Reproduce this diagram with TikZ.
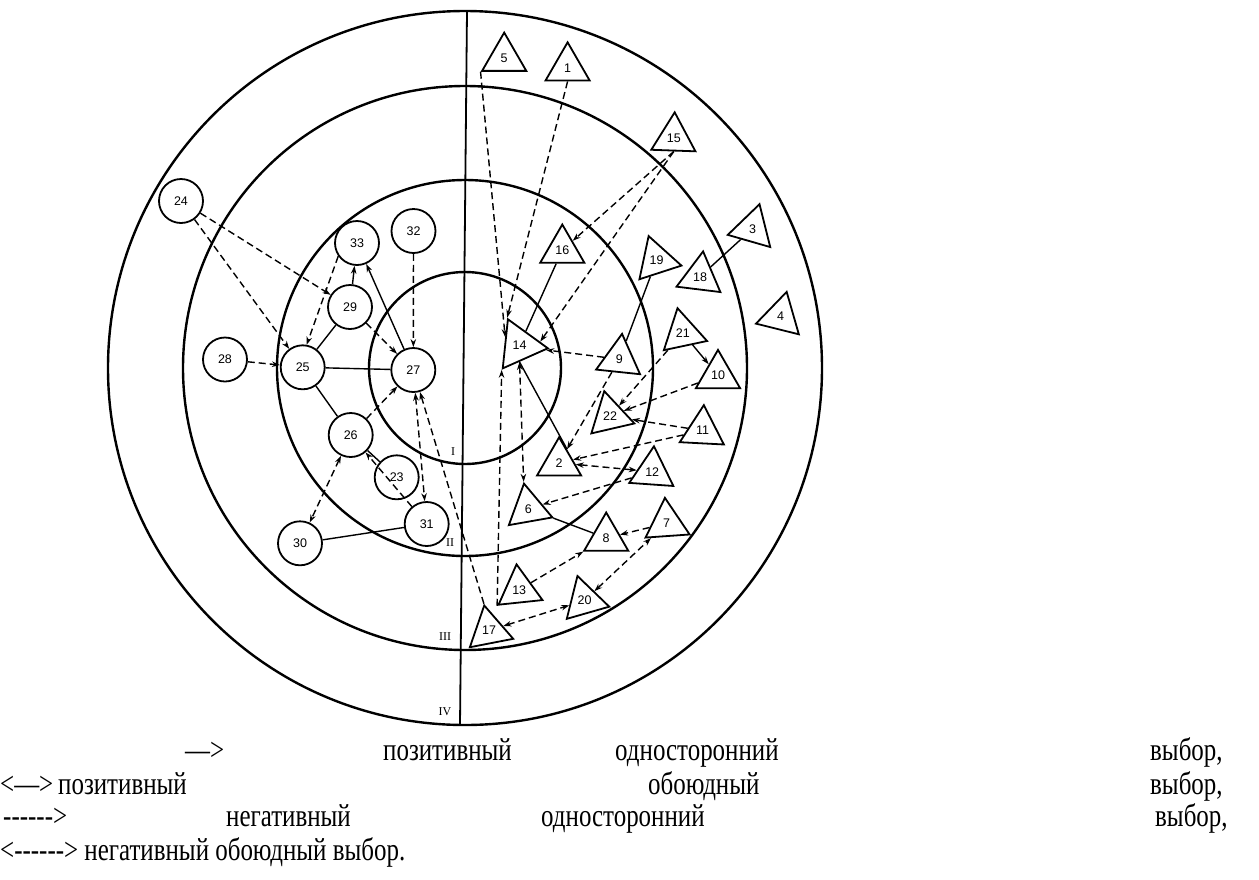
\documentclass[tikz,border=0pt]{standalone}
\usepackage{fontspec}
\setmainfont{Liberation Serif}
\newfontfamily\labfont{Liberation Sans}
\newfontfamily\legfont{Liberation Serif}[FakeStretch=0.78]
\usetikzlibrary{shapes.geometric,arrows.meta}
\newcommand\hy{\mbox{-}}
\begin{document}
\begin{tikzpicture}[x=1pt,y=-1pt,
  ring/.style={line width=2.4pt},
  person/.style={draw, circle, minimum size=44pt, inner sep=0pt, line width=1.8pt, font=\labfont\fontsize{12.5}{12.5}\selectfont},
  tri/.style={draw, regular polygon, regular polygon sides=3, minimum size=51pt, inner sep=0pt, line width=1.8pt, font=\labfont\fontsize{12.5}{12.5}\selectfont},
  posarr/.style={line width=1.4pt, -{Stealth[length=8pt,width=5.5pt]}},
  plainline/.style={line width=1.4pt},
  negarr/.style={line width=1.4pt, dash pattern=on 7pt off 4pt, -{Stealth[length=8pt,width=5.5pt]}},
  negmut/.style={line width=1.4pt, dash pattern=on 7pt off 4pt, {Stealth[length=8pt,width=5.5pt]}-{Stealth[length=8pt,width=5.5pt]}},
  legend/.style={anchor=base west, inner sep=0pt, font=\legfont\fontsize{32}{32}\selectfont},
  rn/.style={font=\fontsize{12}{12}\selectfont, inner sep=0pt}
]
\useasboundingbox[fill=white] (0,0) rectangle (1259,879);

% rings
\coordinate (ctr) at (465,368);
\draw[ring] (ctr) circle (357pt);
\draw[ring] (ctr) circle (282pt);
\draw[ring] (ctr) circle (188pt);
\draw[ring] (ctr) circle (96pt);
\coordinate (vtop) at (467,11);
\coordinate (vbot) at (460,725);
\draw[line width=1.8pt] (vtop) -- (vbot);
\node[rn] (rI) at (453,452) {I};
\node[rn] (rII) at (450,543) {II};
\node[rn] (rIII) at (445,637) {III};
\node[rn] (rIV) at (445,712) {IV};

% circles
\node[person] (c24) at (181,201) {24};
\node[person] (c33) at (357,243) {33};
\node[person] (c32) at (413.5,231) {32};
\node[person] (c29) at (350,307) {29};
\node[person] (c28) at (225,359.5) {28};
\node[person] (c25) at (302.7,367.3) {25};
\node[person] (c27) at (413.3,370) {27};
\node[person] (c26) at (350.7,435) {26};
\node[person] (c23) at (396.7,477.3) {23};
\node[person] (c31) at (426.7,524) {31};
\node[person] (c30) at (300,543.3) {30};

% triangles
\node[tri] (t5) at (504.2,58.1) {5};
\node[tri] (t1) at (567.6,67.8) {1};
\node[tri, shape border rotate=-2] (t15) at (673.8,137.8) {15};
\node[tri] (t16) at (562.3,250) {16};
\node[tri, shape border rotate=-102] (t19) at (656.5,260.3) {19};
\node[tri, shape border rotate=-7] (t18) at (700,276.7) {18};
\node[tri, shape border rotate=-16] (t3) at (752.5,228.7) {3};
\node[tri, shape border rotate=-14] (t4) at (780.5,316.6) {4};
\node[tri, shape border rotate=12] (t21) at (682.8,333.1) {21};
\node[tri, shape border rotate=-96, minimum size=57pt] (t14) at (519.5,345.3) {14};
\node[tri, shape border rotate=-6] (t9) at (619.4,359.2) {9};
\node[tri] (t10) at (718,375.4) {10};
\node[tri, shape border rotate=13] (t22) at (610,416) {22};
\node[tri, shape border rotate=-3] (t11) at (702.5,430.6) {11};
\node[tri] (t2) at (559.1,462.8) {2};
\node[tri, shape border rotate=-4] (t12) at (652.2,471.7) {12};
\node[tri, shape border rotate=10] (t6) at (528.4,508.7) {6};
\node[tri] (t8) at (606.2,538) {8};
\node[tri, shape border rotate=4] (t7) at (666.7,523.3) {7};
\node[tri, shape border rotate=6] (t13) at (519.2,589.7) {13};
\node[tri, shape border rotate=16] (t20) at (584.5,600.5) {20};
\node[tri, shape border rotate=11] (t17) at (489.1,630.5) {17};

% left-side connectors
\draw[negarr] (c24) -- (c29);
\draw[negarr] (c24) -- (c25);
\draw[negarr] (c28) -- (c25);
\draw[negarr] (c33.215) -- (c25.80);
\draw[posarr] (c29) -- (c33);
\draw[plainline] (c29) -- (c25);
\draw[negarr] (c29) -- (c27);
\draw[posarr] (c27) -- (c33);
\draw[negarr] (c32) -- (c27);
\draw[plainline] (c25) -- (c27);
\draw[plainline] (c25) -- (c26);
\draw[negarr] (c26) -- (c27);
\draw[plainline] (c26) -- (c23);
\draw[negmut] (c26) -- (c30);
\draw[negarr] (c31) -- (c26);
\draw[plainline] (c30) -- (c31);
\draw[negmut] (c27) -- (c31);
\draw[negarr] (t17.corner 1) -- (c27);

% right-side connectors
\draw[negarr] (t5.corner 2) -- (t14.150);
\draw[negarr] (t1.south) -- (t14.corner 2);
\draw[negarr] (t13.corner 2) -- (t14.corner 3);
\draw[negarr] (t15.south) -- (t16);
\draw[negarr] (t15.south) -- (t14.10);
\draw[plainline] (t16) -- (t14);
\draw[plainline] (t19) -- (t9);
\draw[plainline] (t3) -- (t18);
\draw[negarr] (t9) -- (t14.-10);
\draw[negarr] (t9) -- (t2);
\draw[plainline] (t2.60) -- (t14.south);
\draw[negmut] (t14.south) -- (t6.corner 1);
\draw[posarr] (t21) -- (t10);
\draw[negarr] (t21) -- (t22);
\draw[negarr] (t10) -- (t22);
\draw[negarr] (t11) -- (t22);
\draw[negarr] (t11) -- (t2);
\draw[negmut] (t2) -- (t12);
\draw[negarr] (t12) -- (t6);
\draw[plainline] (t6) -- (t8);
\draw[negarr] (t7) -- (t8);
\draw[negarr] (t13) -- (t8);
\draw[negmut] (t20) -- (t7);
\draw[negmut] (t17) -- (t20);

% legend
\node[legend] (l1a) at (185,760) {—>};
\node[legend] (l1b) at (383,760) {позитивный};
\node[legend] (l1c) at (615,760) {односторонний};
\node[legend] (l1d) at (1150,760) {выбор,};
\node[legend] (l2a) at (0,794) {<—>};
\node[legend] (l2b) at (58,794) {позитивный};
\node[legend] (l2c) at (648,794) {обоюдный};
\node[legend] (l2d) at (1150,794) {выбор,};
\node[legend] (l3a) at (3,826) {\hy\hy\hy\hy\hy\hy>};
\node[legend] (l3b) at (226,826) {негативный};
\node[legend] (l3c) at (541,826) {односторонний};
\node[legend] (l3d) at (1155,826) {выбор,};
\node[legend] (l4) at (0,860) {<\hy\hy\hy\hy\hy\hy> негативный обоюдный выбор.};
\end{tikzpicture}
\end{document}
